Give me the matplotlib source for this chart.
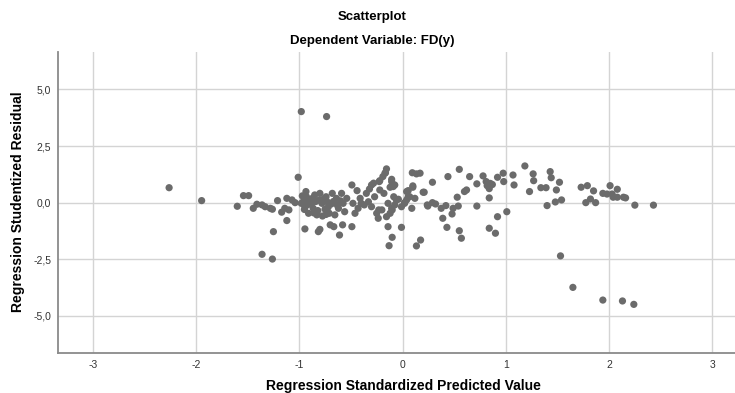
import matplotlib
matplotlib.use("Agg")
import matplotlib.pyplot as plt

# Regression standardized predicted value (x) and studentized residual (y)
pred = [
    -2.26, -1.945, -1.54, -1.49, -1.60, -1.445, -1.41, -1.36, -1.26,
    -1.36, -1.33, -1.28, -1.26, -1.21, -1.17, -1.12, -1.12, -1.14, -1.10, -1.07, -1.04, -1.25,
    -1.01, -0.98, -0.945, -0.935, -0.93, -0.91, -0.945, -0.90, -0.88, -0.865, -0.85, -0.83,
    -0.815, -0.80, -0.805, -0.80, -0.78, -0.775, -0.75, -0.74, -0.73, -0.71, -0.70, -0.69,
    -0.68, -0.665, -0.655, -0.64, -0.62, -0.61, -0.59, -0.58, -0.575, -0.56, -0.54, -0.49,
    -0.49, -0.48, -0.46, -0.44, -0.43, -0.41, -0.40, -0.35, -0.33, -0.30, -0.28, -0.27,
    -0.25, -0.235, -0.225, -0.22, -0.20, -0.19, -0.18, -0.165, -0.155, -0.14, -0.13, -0.105,
    -0.10, -0.09, -0.085, -0.10, -0.075, -0.06, -0.01, 0.02, 0.04, 0.055, 0.095, 0.135,
    0.10, 0.09, 0.12, 0.135, 0.175, 0.20,
    -0.96, -0.92, -0.87, -0.84, -0.82, -0.76, -0.72, -0.67, -0.63, -0.95, -0.97, -0.86, -0.74, -0.60,
    -0.37, -0.32, -0.30, -0.17, -0.22, -0.105, -0.075, -0.12, -0.04, -0.14, -0.105, -0.12,
    -0.155, -0.23, 0.04, 0.02, -0.01, 0.055, 0.07, 0.10,
    0.17, 0.21, 0.29, 0.245, 0.29, 0.32, 0.375, 0.42, 0.39, 0.43, 0.44, 0.48, 0.49, 0.54,
    0.53, 0.55, 0.55, 0.57, 0.60, 0.62, 0.65, 0.72, 0.72, 0.78, 0.81, 0.82, 0.84, 0.85, 0.87,
    0.84, 0.84, 0.90, 0.92, 0.92, 0.975, 0.98, 1.01, 1.07, 1.08, 1.185, 1.265, 1.27, 1.23,
    1.34, 1.39, 1.43, 1.44, 1.52, 1.49, 1.54, 1.48, 1.40, 1.53, 0.24,
    1.73, 1.79, 1.85, 1.775, 1.82, 1.87, 1.94, 1.98, 2.01, 2.03, 2.08, 2.04, 2.08, 2.14,
    2.16, 2.25, 2.43,
    1.65, 1.94, 2.13, 2.24,
    -0.98, -0.735,
]
resid = [
    0.66, 0.09, 0.31, 0.31, -0.16, -0.25, -0.07, -2.28, -2.49,
    -0.10, -0.18, -0.25, -0.29, 0.09, -0.42, 0.19, -0.79, -0.25, -0.32, 0.12, 0.0, -1.28,
    1.12, -0.03, -0.18, 0.49, 0.26, -0.47, -1.16, 0.12, -0.03, -0.25, 0.34, -0.54,
    -1.28, -1.18, 0.12, 0.41, -0.03, -0.59, -0.29, 0.26, 0.04, -0.47, -0.98, -0.06,
    0.41, -1.06, -0.54, 0.19, -0.25, -1.43, 0.41, -0.98, -0.03, -0.40, 0.19, 0.78,
    -1.06, -0.03, -0.47, 0.53, -0.25, 0.19, -0.03, 0.41, 0.04, -0.18, 0.86, 0.26,
    -0.47, -0.69, 0.93, 0.56, -0.32, 1.15, 0.41, 1.32, 1.49, -1.06, -1.90, 0.93,
    -1.53, 0.71, 0.26, -0.32, -0.10, 0.12, -1.09, 0.0, 0.49, 0.26, 1.32, 1.27,
    0.74, -0.25, 0.19, -1.91, -1.65, 0.46,
    0.05, -0.10, 0.20, 0.05, -0.35, 0.18, -0.20, 0.05, -0.12, -0.30, 0.30, -0.45, -0.52, 0.08,
    -0.10, 0.60, 0.78, 1.30, 0.97, 1.03, 0.78, 0.68, 0.15, -0.03, -0.25, -0.47,
    -0.62, -0.32, 0.12, -0.03, -0.18, 0.53, 0.26, 0.68,
    1.30, 0.46, 0.90, -0.15, 0.0, -0.06, -0.25, -0.13, -0.69, -1.09, 1.15, -0.50, -0.25, -0.15,
    0.24, 1.47, -1.24, -1.57, 0.49, 0.56, 1.15, 0.83, -0.15, 1.18, 0.93, 0.75, 0.62, 0.85, 0.80,
    0.21, -1.13, -1.35, -0.62, 1.12, 1.30, 0.93, -0.40, 1.22, 0.78, 1.62, 1.27, 0.97, 0.49,
    0.66, 0.66, 1.37, 1.10, 0.90, 0.56, 0.12, 0.03, -0.13, -2.35, -0.10,
    0.68, 0.75, 0.52, 0.0, 0.16, 0.0, 0.41, 0.38, 0.75, 0.38, 0.59, 0.24, 0.24, 0.24,
    0.21, -0.11, -0.11,
    -3.74, -4.30, -4.34, -4.49,
    4.02, 3.80,
]

x_ticks = [-3, -2, -1, 0, 1, 2, 3]
y_ticks = [5.0, 2.5, 0.0, -2.5, -5.0]
y_tick_labels = ["5,0", "2,5", "0,0", "-2,5", "-5,0"]

plt.rcParams['font.family'] = ['Liberation Sans', 'DejaVu Sans']

W, H = 735, 393
fig = plt.figure(figsize=(W / 100, H / 100), dpi=100)
left, right, top, bottom = 58.3, 746.7, 52.0, 353.3
ax = fig.add_axes([left / W, 1 - bottom / H, (right - left) / W, (bottom - top) / H])

ax.scatter(pred, resid, s=27, color='#6b6b6b', edgecolors='none', zorder=3)

ax.set_xlim(-3.333, 3.333)
ax.set_ylim(-6.65, 6.65)
ax.set_xticks(x_ticks)
ax.set_xticklabels([str(t) for t in x_ticks])
ax.set_yticks(y_ticks)
ax.set_yticklabels(y_tick_labels)
ax.grid(True, color='#d4d4d4', linewidth=1.0, zorder=0)
ax.set_axisbelow(True)
for s in ['top', 'right']:
    ax.spines[s].set_visible(False)
for s in ['left', 'bottom']:
    ax.spines[s].set_color('#8a8a8a')
    ax.spines[s].set_linewidth(1.3)
ax.tick_params(axis='x', length=0, labelsize=7.5, labelcolor='#333333', pad=5)
ax.tick_params(axis='y', length=0, labelsize=7.5, labelcolor='#333333', pad=5)

fig.text(403 / W, 1 - 386 / H, 'Regression Standardized Predicted Value',
         ha='center', va='center', fontsize=10, fontweight='bold')
fig.text(18 / W, 1 - 202 / H, 'Regression Studentized Residual', rotation=90,
         ha='center', va='center', fontsize=10, fontweight='bold')

fig.text(372 / W, 1 - 17 / H, 'Scatterplot', ha='center', va='center', fontsize=9.5, fontweight='bold')
fig.text(372 / W, 1 - 41 / H, 'Dependent Variable: FD(y)', ha='center', va='center', fontsize=9.5, fontweight='bold')

fig.savefig('out.png', dpi=100)
